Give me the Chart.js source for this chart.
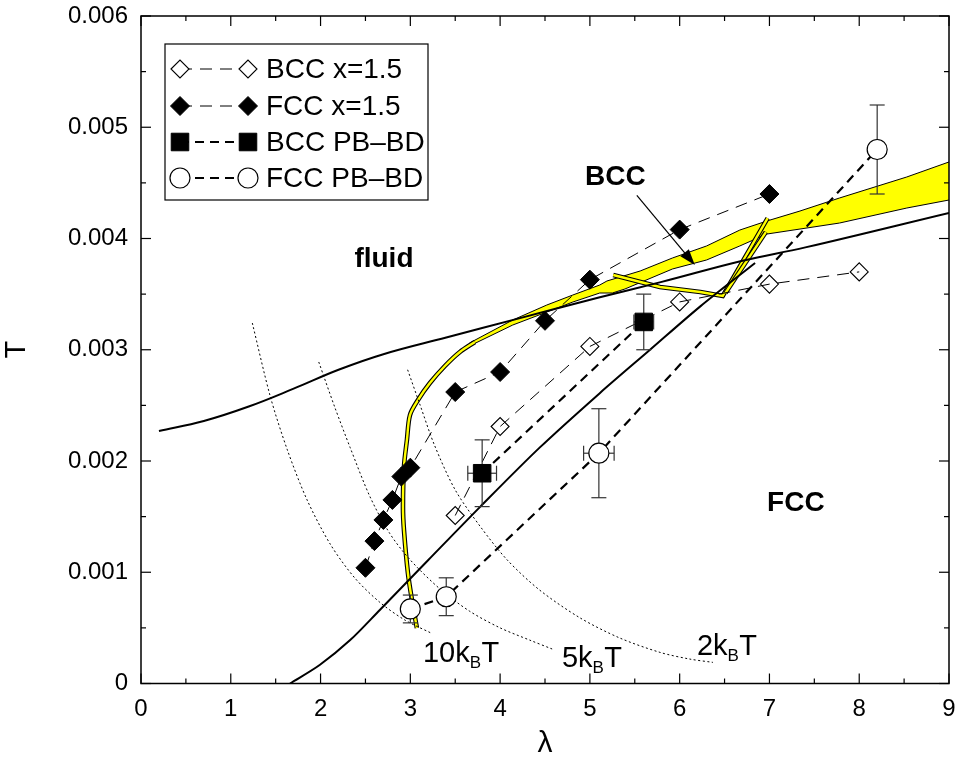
<!DOCTYPE html>
<html><head><meta charset="utf-8">
<script src="https://cdn.jsdelivr.net/npm/chart.js@4/dist/chart.umd.min.js"></script>
<style>html,body{margin:0;padding:0;background:#fff;}canvas{display:block;}</style>
</head><body>
<canvas id="c" width="956" height="762"></canvas>
<script>
// ---------- tick labels ----------
const xTickLabels = ['0','1','2','3','4','5','6','7','8','9'];
const yTickLabels = ['0','0.001','0.002','0.003','0.004','0.005','0.006'];

// ---------- series ----------
const bccX15_lambda = [3.5, 4.0, 5.0, 6.0, 7.0, 8.0];
const bccX15_T      = [0.00151, 0.00231, 0.00303, 0.00343, 0.00359, 0.00370];

const fccX15_lambda = [2.5, 2.6, 2.7, 2.8, 2.9, 3.0, 3.5, 4.0, 4.5, 5.0, 6.0, 7.0];
const fccX15_T      = [0.00104, 0.00128, 0.00147, 0.00165, 0.00186, 0.00194, 0.00262, 0.00280, 0.00326, 0.00363, 0.00408, 0.00440];

const bccPB_lambda    = [3.8, 5.6];
const bccPB_T         = [0.00189, 0.00325];
const bccPB_Terr      = [0.00030, 0.00025];
const bccPB_lambdaErr = [0.16, 0.11];

const fccPB_lambda    = [3.0, 3.4, 5.1, 8.2];
const fccPB_T         = [0.00067, 0.00078, 0.00207, 0.00480];
const fccPB_Terr      = [0.000125, 0.00017, 0.00040, 0.00040];
const fccPB_lambdaErr = [0.06, 0, 0.17, 0];

// ---------- phase boundaries ----------
const fluidLine_lambda = [0.2, 0.7, 1.2, 1.7, 2.2, 2.7, 3.4, 4.2, 5.1, 5.8, 6.7, 7.4, 9.0];
const fluidLine_T      = [0.00227, 0.00236, 0.00249, 0.00265, 0.00282, 0.00296, 0.00311, 0.00328, 0.00347, 0.00361, 0.00380, 0.00392, 0.00423];

const bccFccLine_lambda = [1.66, 1.99, 2.33, 2.66, 3.20, 3.78, 4.44, 5.11, 5.67, 6.23, 6.84];
const bccFccLine_T      = [0, 0.000166, 0.000390, 0.000661, 0.00111, 0.00159, 0.00212, 0.00261, 0.00300, 0.00339, 0.00378];

// ---------- energy contours ----------
const contour10_lambda = [1.24, 1.44, 1.63, 1.85, 2.11, 2.38, 2.66, 2.94, 3.24];
const contour10_T      = [0.00324, 0.00258, 0.00210, 0.00165, 0.00125, 0.00095, 0.00073, 0.00057, 0.00045];
const contour5_lambda  = [1.98, 2.16, 2.33, 2.55, 2.77, 3.00, 3.33, 3.66, 4.00, 4.33, 4.58];
const contour5_T       = [0.00289, 0.00248, 0.00212, 0.00168, 0.00135, 0.00111, 0.00085, 0.00065, 0.00050, 0.00039, 0.00031];
const contour2_lambda  = [2.97, 3.11, 3.27, 3.50, 3.78, 4.08, 4.44, 4.89, 5.33, 5.78, 6.11, 6.37];
const contour2_T       = [0.00282, 0.00250, 0.00214, 0.00174, 0.00141, 0.00111, 0.00084, 0.00059, 0.00041, 0.00028, 0.00022, 0.00019];

// ---------- yellow region ----------
const yellowThin_lambda  = [3.073, 3.018, 2.973, 2.929, 2.918, 2.929, 2.962, 2.996, 3.085, 3.218, 3.385, 3.552, 3.719];
const yellowThin_T       = [0.000499, 0.000751, 0.000993, 0.00138, 0.001587, 0.001946, 0.002189, 0.002413, 0.002548, 0.002701, 0.002854, 0.00298, 0.00307];
const yellowUpper_lambda = [3.66, 4.14, 4.52, 4.81, 5.11, 5.19, 5.56, 5.92, 6.30, 6.67, 6.97, 7.34, 7.78, 8.53, 9.0];
const yellowUpper_T      = [0.003061, 0.003267, 0.003402, 0.003492, 0.003582, 0.003618, 0.003708, 0.003825, 0.003933, 0.004076, 0.004157, 0.004247, 0.004364, 0.004553, 0.004688];
const yellowLower_lambda = [3.66, 4.14, 4.52, 4.81, 5.11, 5.25, 5.39, 5.92, 6.30, 6.67, 6.97, 7.34, 7.78, 8.53, 9.0];
const yellowLower_T      = [0.003034, 0.003222, 0.003339, 0.003429, 0.00351, 0.00351, 0.003546, 0.003726, 0.003807, 0.003933, 0.00404, 0.004085, 0.004139, 0.004274, 0.004346];
const yellowV1_lambda    = [5.26, 5.78, 6.23, 6.48, 6.98];
const yellowV1_T         = [0.003672, 0.003564, 0.003519, 0.003483, 0.004184];
const yellowV2_lambda    = [6.51, 6.96];
const yellowV2_T         = [0.00351, 0.004058];

// ---------- annotations ----------
const regionLabels = ['fluid', 'BCC', 'FCC'];
const regionLabel_lambda = [2.706, 5.284, 7.294];
const regionLabel_T = [0.003744, 0.004481, 0.001551];
const contourLabels = ['10', '5', '2'];
const contourLabel_lambda = [3.14, 4.688, 6.192];
const contourLabel_T = [0.000193, 0.000148, 0.000256];
const arrowFrom = [5.523, 0.004387];
const arrowTo = [6.169, 0.003762];

const FONT = "'Liberation Sans', Arial, Helvetica, sans-serif";
function pts(xs, ys) { return xs.map((x, i) => ({x: x, y: ys[i]})); }

function curve(data, opts) {
  return Object.assign({
    data: data, borderColor: '#000', borderWidth: 1.6, pointRadius: 0,
    pointHoverRadius: 0, fill: false, tension: 0.3, borderDash: [], order: 20
  }, opts);
}

const datasets = [
  { label: 'BCC x=1.5', data: pts(bccX15_lambda, bccX15_T), borderColor: '#000', borderWidth: 1,
    borderDash: [12, 8], pointStyle: 'rectRot', pointRadius: 9, pointBorderWidth: 1.1,
    pointBorderColor: '#000', pointBackgroundColor: 'rgba(0,0,0,0)', tension: 0, fill: false, order: 3 },
  { label: 'FCC x=1.5', data: pts(fccX15_lambda, fccX15_T), borderColor: '#000', borderWidth: 1,
    borderDash: [12, 8], pointStyle: 'rectRot', pointRadius: 9.5, pointBorderWidth: 1,
    pointBorderColor: '#000', pointBackgroundColor: '#000', tension: 0, fill: false, order: 2 },
  { label: 'BCC PB\u2013BD', data: pts(bccPB_lambda, bccPB_T), borderColor: '#000', borderWidth: 2.2,
    borderDash: [9, 6], pointStyle: 'rect', pointRadius: 12.4, pointBorderWidth: 1,
    pointBorderColor: '#000', pointBackgroundColor: '#000', tension: 0, fill: false, order: 1,
    errY: bccPB_Terr, errX: bccPB_lambdaErr },
  { label: 'FCC PB\u2013BD', data: pts(fccPB_lambda, fccPB_T), borderColor: '#000', borderWidth: 2.2,
    borderDash: [9, 6], pointStyle: 'circle', pointRadius: 10, pointBorderWidth: 1.2,
    pointBorderColor: '#000', pointBackgroundColor: '#fff', tension: 0, fill: false, order: 0,
    errY: fccPB_Terr, errX: fccPB_lambdaErr },
  curve(pts(fluidLine_lambda, fluidLine_T), {borderWidth: 2, tension: 0.4}),
  curve(pts(bccFccLine_lambda, bccFccLine_T), {borderWidth: 2, tension: 0.3}),
  curve(pts(contour10_lambda, contour10_T), {borderWidth: 1, borderDash: [2, 2.5]}),
  curve(pts(contour5_lambda, contour5_T), {borderWidth: 1, borderDash: [2, 2.5]}),
  curve(pts(contour2_lambda, contour2_T), {borderWidth: 1, borderDash: [2, 2.5]}),
  curve(pts(yellowUpper_lambda, yellowUpper_T), {borderWidth: 1, tension: 0, order: 40,
    fill: '+1', backgroundColor: '#ffff00'}),
  curve(pts(yellowLower_lambda, yellowLower_T), {borderWidth: 1, tension: 0, order: 39}),
  curve(pts(yellowThin_lambda, yellowThin_T), {borderWidth: 4.6, tension: 0.3, order: 38}),
  curve(pts(yellowThin_lambda, yellowThin_T), {borderWidth: 2.4, tension: 0.3, order: 37, borderColor: '#ffff00'}),
  curve(pts(yellowV1_lambda, yellowV1_T), {borderWidth: 4.6, tension: 0, order: 36}),
  curve(pts(yellowV1_lambda, yellowV1_T), {borderWidth: 2.4, tension: 0, order: 35, borderColor: '#ffff00'}),
  curve(pts(yellowV2_lambda, yellowV2_T), {borderWidth: 4.6, tension: 0, order: 34}),
  curve(pts(yellowV2_lambda, yellowV2_T), {borderWidth: 2.4, tension: 0, order: 33, borderColor: '#ffff00'})
];

function drawMarker(ctx, style, x, y, r, fill, stroke, lw) {
  ctx.beginPath();
  if (style === 'rectRot') {
    ctx.moveTo(x - r, y); ctx.lineTo(x, y - r); ctx.lineTo(x + r, y); ctx.lineTo(x, y + r); ctx.closePath();
  } else if (style === 'rect') {
    const s = r * Math.SQRT1_2; ctx.rect(x - s, y - s, 2 * s, 2 * s);
  } else {
    ctx.arc(x, y, r, 0, Math.PI * 2);
  }
  ctx.fillStyle = fill; ctx.fill();
  ctx.lineWidth = lw; ctx.strokeStyle = stroke; ctx.setLineDash([]); ctx.stroke();
}

function seg(ctx, x1, y1, x2, y2) { ctx.beginPath(); ctx.moveTo(x1, y1); ctx.lineTo(x2, y2); ctx.stroke(); }

const decor = {
  id: 'decor',
  beforeDatasetDraw(chart, args) {
    const ds = chart.data.datasets[args.index];
    if (!ds.errY) return;
    const ctx = chart.ctx, xs = chart.scales.x, ys = chart.scales.y;
    ctx.save();
    ctx.strokeStyle = '#333'; ctx.lineWidth = 1.2; ctx.setLineDash([]);
    ds.data.forEach((p, i) => {
      const px = xs.getPixelForValue(p.x), py = ys.getPixelForValue(p.y);
      const ey = ds.errY[i], ex = ds.errX[i];
      if (ey) {
        const y1 = ys.getPixelForValue(p.y + ey), y2 = ys.getPixelForValue(p.y - ey);
        seg(ctx, px, y1, px, y2);
        seg(ctx, px - 7.5, y1, px + 7.5, y1);
        seg(ctx, px - 7.5, y2, px + 7.5, y2);
      }
      if (ex) {
        const x1 = xs.getPixelForValue(p.x - ex), x2 = xs.getPixelForValue(p.x + ex);
        seg(ctx, x1, py, x2, py);
        seg(ctx, x1, py - 7.5, x1, py + 7.5);
        seg(ctx, x2, py - 7.5, x2, py + 7.5);
      }
    });
    ctx.restore();
  },
  afterDatasetsDraw(chart) {
    const ctx = chart.ctx, xs = chart.scales.x, ys = chart.scales.y, a = chart.chartArea;
    ctx.save();
    ctx.strokeStyle = '#000'; ctx.lineWidth = 1.5; ctx.setLineDash([]);
    ctx.strokeRect(a.left, a.top, a.right - a.left, a.bottom - a.top);
    ctx.lineWidth = 1.2;
    const xt = xs.ticks.map(t => t.value), yt = ys.ticks.map(t => t.value);
    const xm = [], ym = [];
    for (let i = 0; i < xt.length - 1; i++) xm.push((xt[i] + xt[i + 1]) / 2);
    for (let i = 0; i < yt.length - 1; i++) ym.push((yt[i] + yt[i + 1]) / 2);
    const tickX = (v, L) => { const p = xs.getPixelForValue(v); seg(ctx, p, a.bottom, p, a.bottom - L); seg(ctx, p, a.top, p, a.top + L); };
    const tickY = (v, L) => { const p = ys.getPixelForValue(v); seg(ctx, a.left, p, a.left + L, p); seg(ctx, a.right, p, a.right - L, p); };
    xt.forEach(v => tickX(v, 10)); xm.forEach(v => tickX(v, 5));
    yt.forEach(v => tickY(v, 10)); ym.forEach(v => tickY(v, 5));
    const ax1 = xs.getPixelForValue(arrowFrom[0]), ay1 = ys.getPixelForValue(arrowFrom[1]);
    const ax2 = xs.getPixelForValue(arrowTo[0]), ay2 = ys.getPixelForValue(arrowTo[1]);
    const ang = Math.atan2(ay2 - ay1, ax2 - ax1);
    ctx.lineWidth = 1.2;
    seg(ctx, ax1, ay1, ax2 - 10 * Math.cos(ang), ay2 - 10 * Math.sin(ang));
    ctx.beginPath();
    ctx.moveTo(ax2, ay2);
    ctx.lineTo(ax2 - 16 * Math.cos(ang) + 5.5 * Math.sin(ang), ay2 - 16 * Math.sin(ang) - 5.5 * Math.cos(ang));
    ctx.lineTo(ax2 - 16 * Math.cos(ang) - 5.5 * Math.sin(ang), ay2 - 16 * Math.sin(ang) + 5.5 * Math.cos(ang));
    ctx.closePath(); ctx.fillStyle = '#000'; ctx.fill();
    ctx.fillStyle = '#000'; ctx.textBaseline = 'alphabetic'; ctx.textAlign = 'center';
    ctx.font = 'bold 28px ' + FONT;
    regionLabels.forEach((t, i) => {
      ctx.fillText(t, xs.getPixelForValue(regionLabel_lambda[i]), ys.getPixelForValue(regionLabel_T[i]));
    });
    ctx.textAlign = 'left';
    contourLabels.forEach((n, i) => {
      const x = xs.getPixelForValue(contourLabel_lambda[i]), y = ys.getPixelForValue(contourLabel_T[i]);
      ctx.font = '29px ' + FONT;
      ctx.fillText(n + 'k', x, y);
      let w = ctx.measureText(n + 'k').width;
      ctx.font = '17px ' + FONT;
      ctx.fillText('B', x + w, y + 6);
      w += ctx.measureText('B').width;
      ctx.font = '29px ' + FONT;
      ctx.fillText('T', x + w + 0.5, y);
    });
    ctx.restore();
  },
  afterDraw(chart) {
    const ctx = chart.ctx;
    ctx.save();
    const bx = 165, by = 44, bw = 263, bh = 156;
    ctx.fillStyle = '#fff'; ctx.fillRect(bx, by, bw, bh);
    ctx.strokeStyle = '#000'; ctx.lineWidth = 1.2; ctx.setLineDash([]);
    ctx.strokeRect(bx, by, bw, bh);
    const rows = [69, 106, 142, 178];
    [0, 1, 2, 3].forEach((di, r) => {
      const ds = chart.data.datasets[di];
      const y = rows[r], m1 = 180, m2 = 248;
      ctx.strokeStyle = ds.borderColor; ctx.lineWidth = ds.borderWidth; ctx.setLineDash(ds.borderDash);
      seg(ctx, m1, y, m2, y);
      ctx.setLineDash([]);
      const fill = ds.pointBackgroundColor === 'rgba(0,0,0,0)' ? '#fff' : ds.pointBackgroundColor;
      drawMarker(ctx, ds.pointStyle, m1, y, ds.pointRadius, fill, ds.pointBorderColor, ds.pointBorderWidth);
      drawMarker(ctx, ds.pointStyle, m2, y, ds.pointRadius, fill, ds.pointBorderColor, ds.pointBorderWidth);
      ctx.fillStyle = '#000'; ctx.font = '28px ' + FONT; ctx.textAlign = 'left'; ctx.textBaseline = 'middle';
      ctx.fillText(ds.label, 266, y + 1);
    });
    ctx.restore();
  }
};

new Chart(document.getElementById('c'), {
  type: 'line',
  data: { datasets: datasets },
  options: {
    responsive: false, animation: false, events: [],
    layout: { autoPadding: false, padding: { top: 16, right: 7, bottom: 0, left: 0 } },
    plugins: { legend: { display: false }, tooltip: { enabled: false } },
    scales: {
      x: {
        type: 'linear', min: 0, max: 9,
        grid: { display: false, drawTicks: false },
        border: { display: false },
        ticks: { stepSize: 1, padding: 11, color: '#000', font: { family: FONT, size: 24 },
          callback: (v) => xTickLabels[Math.round(v)] },
        title: { display: true, text: '\u03bb', color: '#000', font: { family: FONT, size: 30 }, padding: { top: 0, bottom: 0 } },
        afterFit: (s) => { s.height = 78.5; s.paddingLeft = 0; s.paddingRight = 0; }
      },
      y: {
        type: 'linear', min: 0, max: 0.006,
        grid: { display: false, drawTicks: false },
        border: { display: false },
        ticks: { stepSize: 0.001, padding: 13, color: '#000', font: { family: FONT, size: 24 },
          callback: (v) => yTickLabels[Math.round(v / 0.001)] },
        title: { display: true, text: 'T', color: '#000', font: { family: FONT, size: 29 }, padding: { top: 0, bottom: 0 } },
        afterFit: (s) => { s.width = 141; s.paddingTop = 0; s.paddingBottom = 0; }
      }
    }
  },
  plugins: [decor]
});
</script>
</body></html>
